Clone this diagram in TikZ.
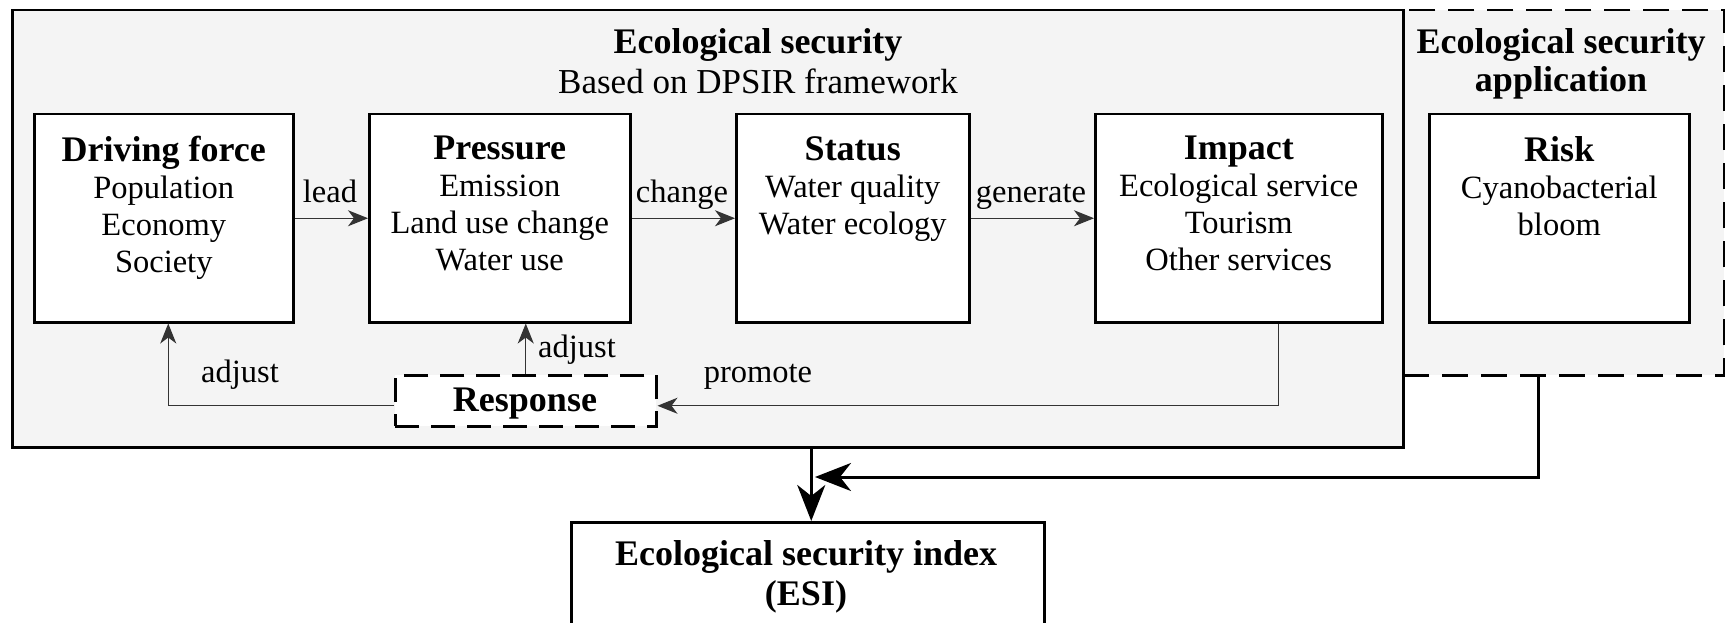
\documentclass[tikz,border=0pt]{standalone}
\usepackage{fontspec}
\setmainfont{Liberation Serif}
\usetikzlibrary{arrows.meta}
\definecolor{panel}{HTML}{F4F4F4}
\newcommand\boxhead[1]{{\fontsize{36}{37}\selectfont\bfseries #1}}
\tikzset{
  panelbox/.style={draw, line width=2.5pt, fill=panel, inner sep=0pt, anchor=north west},
  dashpanel/.style={panelbox, dash pattern=on 26pt off 13pt},
  dpsirbox/.style={draw, line width=2.5pt, fill=white, inner sep=0pt, anchor=north west, minimum height=208pt},
  boxtext/.style={anchor=north, align=center, inner sep=0pt, font=\fontsize{32.5}{37}\selectfont},
  lbl/.style={anchor=base, inner sep=0pt, font=\fontsize{32.5}{37}\selectfont},
  conn/.style={draw=black!80, line width=1.3pt, -{Stealth[length=20pt,width=16pt,inset=6pt]}},
  feed/.style={line width=3pt, -{Stealth[length=36pt,width=28pt,inset=11pt]}},
}
\begin{document}
\begin{tikzpicture}[x=1pt,y=-1pt]
\path[use as bounding box, clip] (0,0) rectangle (1725,623);

% panels
\node[dashpanel, minimum width=321pt, minimum height=365pt] (app) at (1402,9) {};
\node[panelbox, minimum width=1391pt, minimum height=437pt] (eco) at (11,9) {};

\node[anchor=north, align=center, inner sep=0pt, font=\fontsize{35}{40}\selectfont] (ecotitle) at (758,28)
  {{\fontsize{36}{40}\selectfont\bfseries Ecological security}\\Based on DPSIR framework};
\node[anchor=north, align=center, inner sep=0pt, font=\fontsize{36}{38}\selectfont\bfseries] (apptitle) at (1561,28)
  {Ecological security\\application};

% DPSIR boxes
\node[dpsirbox, minimum width=259pt] (drv) at (33,113) {};
\node[dpsirbox, minimum width=261pt] (prs) at (368,113) {};
\node[dpsirbox, minimum width=233pt] (sts) at (735,113) {};
\node[dpsirbox, minimum width=287pt] (imp) at (1094,113) {};
\node[dpsirbox, minimum width=260pt] (rsk) at (1428,113) {};

\node[boxtext] (drvtxt) at ([yshift=-23pt]drv.north) {\boxhead{Driving force}\\Population\\Economy\\Society};
\node[boxtext] (prstxt) at ([yshift=-23pt]prs.north) {\boxhead{Pressure}\\Emission\\Land use change\\Water use};
\node[boxtext] (ststxt) at ([yshift=-23pt]sts.north) {\boxhead{Status}\\Water quality\\Water ecology};
\node[boxtext] (imptxt) at ([yshift=-23pt]imp.north) {\boxhead{Impact}\\Ecological service\\Tourism\\Other services};
\node[boxtext] (rsktxt) at ([yshift=-23pt]rsk.north) {\boxhead{Risk}\\Cyanobacterial\\bloom};

% response
\node[draw, line width=2.5pt, fill=white, dash pattern=on 24pt off 12pt, inner sep=0pt,
      anchor=north west, minimum width=261pt, minimum height=51pt] (resp) at (394,374) {};
\node[anchor=base, inner sep=0pt, font=\fontsize{36}{37}\selectfont\bfseries] (resptxt) at (525,411) {Response};

% index
\node[draw, line width=2.5pt, fill=white, inner sep=0pt, anchor=north west,
      minimum width=473pt, minimum height=130pt] (esi) at (570,521) {};
\node[anchor=north, align=center, inner sep=0pt, font=\fontsize{36}{40}\selectfont\bfseries] (esitxt) at (806,540)
  {Ecological security index\\(ESI)};

% causal chain
\draw[conn] (drv.east) -- (prs.west);
\draw[conn] (prs.east) -- (sts.west);
\draw[conn] (sts.east) -- (imp.west);
\node[lbl] (leadlbl) at (330,203) {lead};
\node[lbl] (changelbl) at (682,203) {change};
\node[lbl] (generatelbl) at (1031,203) {generate};

% feedback through the response
\coordinate (respin) at ([yshift=-5pt]resp.east);
\coordinate (respout) at ([yshift=-5pt]resp.west);
\coordinate (drvin) at ([xshift=4.5pt]drv.south);
\coordinate (impout) at ([xshift=39.5pt]imp.south);
\draw[conn] (respout) -| (drvin);
\draw[conn] (resp.north) -- (resp.north |- prs.south);
\draw[conn] (impout) |- (respin);
\node[lbl] (adjustl) at (240,382) {adjust};
\node[lbl] (adjustr) at (577,357) {adjust};
\node[lbl] (promotelbl) at (758,382) {promote};

% links to the index
\coordinate (drop) at ([xshift=3.5pt]esi.north);
\coordinate (appdrop) at ([xshift=-25.5pt]app.south);
\coordinate (merge) at (815,477);
\draw[feed] (drop |- eco.south) -- (drop);
\draw[feed] (appdrop) |- (merge);
\end{tikzpicture}
\end{document}
